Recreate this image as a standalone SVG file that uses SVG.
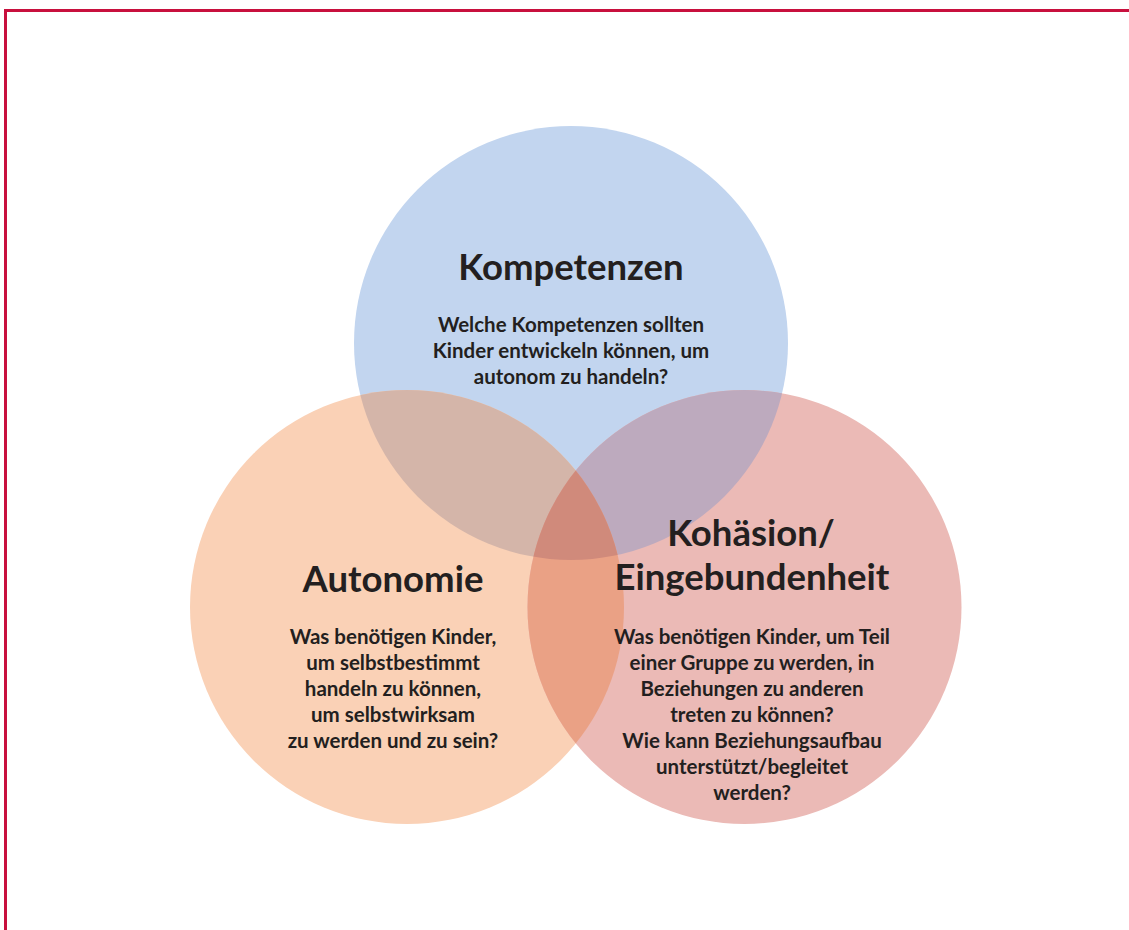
<svg xmlns="http://www.w3.org/2000/svg" width="1129" height="930" viewBox="0 0 1129 930">
<style>
.t{font-family:"Lato","Liberation Sans",sans-serif;font-weight:700;fill:#231f20;text-anchor:middle}
.h{font-size:36.5px}
.b{font-size:20.5px}
</style>
<defs>
<clipPath id="cT"><circle cx="571" cy="343" r="217"/></clipPath>
<clipPath id="cL"><circle cx="407" cy="607" r="217"/></clipPath>
<clipPath id="cR"><circle cx="744.5" cy="607" r="217"/></clipPath>
</defs>
<rect x="0" y="0" width="1129" height="930" fill="#ffffff"/>
<path d="M5.5 930 V10.5 H1129" fill="none" stroke="#c8103e" stroke-width="3"/>
<g id="circles">
<circle cx="571" cy="343" r="217" fill="#c2d5ef"/>
<circle cx="407" cy="607" r="217" fill="#fad1b6"/>
<circle cx="744.5" cy="607" r="217" fill="#ebbab6"/>
<g clip-path="url(#cT)"><circle cx="407" cy="607" r="217" fill="#d4b5a9"/><circle cx="744.5" cy="607" r="217" fill="#bdaabe"/></g>
<g clip-path="url(#cL)"><circle cx="744.5" cy="607" r="217" fill="#eaa185"/></g>
<g clip-path="url(#cL)"><g clip-path="url(#cR)"><circle cx="571" cy="343" r="217" fill="#d08a7b"/></g></g>
</g>
<g id="node-kompetenzen">
<text class="t h" x="571" y="280">Kompetenzen</text>
<text class="t b" x="571" y="332">Welche Kompetenzen sollten</text>
<text class="t b" x="571" y="358">Kinder entwickeln können, um</text>
<text class="t b" x="571" y="384">autonom zu handeln?</text>
</g>
<g id="node-autonomie">
<text class="t h" x="393" y="592">Autonomie</text>
<text class="t b" x="393" y="644">Was benötigen Kinder,</text>
<text class="t b" x="393" y="670">um selbstbestimmt</text>
<text class="t b" x="393" y="696">handeln zu können,</text>
<text class="t b" x="393" y="722">um selbstwirksam</text>
<text class="t b" x="393" y="748">zu werden und zu sein?</text>
</g>
<g id="node-kohaesion">
<text class="t h" x="751" y="546">Kohäsion/</text>
<text class="t h" x="752" y="590">Eingebundenheit</text>
<text class="t b" x="752" y="644">Was benötigen Kinder, um Teil</text>
<text class="t b" x="752" y="670">einer Gruppe zu werden, in</text>
<text class="t b" x="752" y="696">Beziehungen zu anderen</text>
<text class="t b" x="752" y="722">treten zu können?</text>
<text class="t b" x="752" y="748">Wie kann Beziehungsaufbau</text>
<text class="t b" x="752" y="774">unterstützt/begleitet</text>
<text class="t b" x="752" y="800">werden?</text>
</g>
<g id="connectors"/>
</svg>
